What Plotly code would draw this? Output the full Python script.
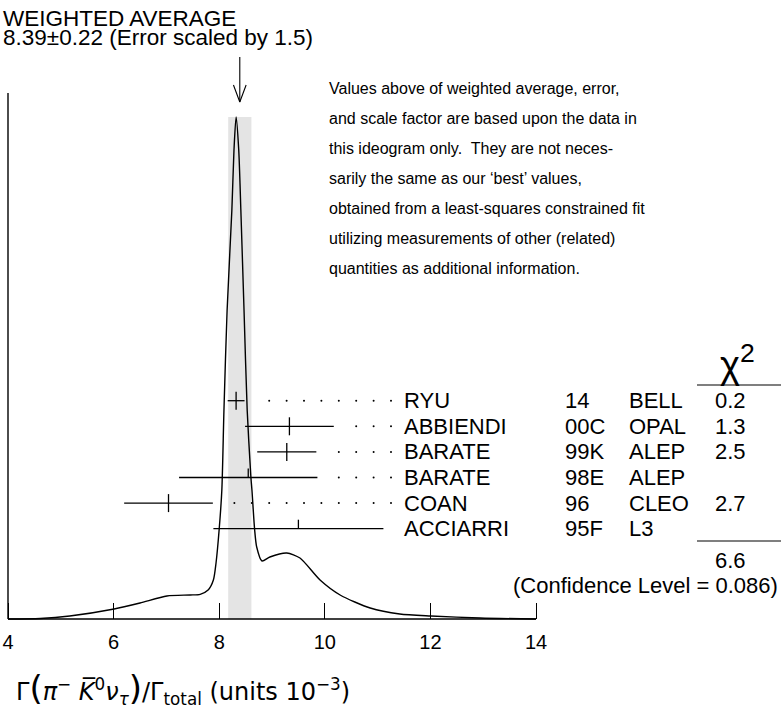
import plotly.graph_objects as go

# Measurements, units of 10^-3
authors = ["RYU", "ABBIENDI", "BARATE", "BARATE", "COAN", "ACCIARRI"]
years = ["14", "00C", "99K", "98E", "96", "95F"]
experiments = ["BELL", "OPAL", "ALEP", "ALEP", "CLEO", "L3"]
values = [8.32, 9.33, 9.28, 8.55, 7.04, 9.50]
errors = [0.16, 0.84, 0.56, 1.31, 0.84, 1.61]
chi2 = ["0.2", "1.3", "2.5", "", "2.7", ""]
in_fit = [True, True, True, False, True, False]

avg_value = 8.39
avg_error = 0.22
scale_factor = 1.5
chi2_total = "6.6"
conf_level = "0.086"

# Ideogram curve (arbitrary height units)
ideogram_x = [4.00, 4.61, 5.17, 6.01, 6.50, 7.01, 7.45, 7.64, 7.79, 7.89, 7.94,
              8.00, 8.05, 8.09, 8.15, 8.24, 8.28, 8.32, 8.37, 8.41, 8.47, 8.53,
              8.60, 8.62, 8.67, 8.71, 8.81, 8.96, 9.28, 9.53, 9.91, 10.29, 10.86,
              11.42, 12.01, 12.94, 14.00]
ideogram_y = [0, 0.5, 3, 10, 16, 23, 24, 24.7, 29, 39, 56,
              90, 129, 209, 309, 409, 469, 502, 469, 409, 309, 209,
              142, 129, 90, 72, 58, 62, 66, 61, 39, 24, 11,
              5, 3, 1, 0]

tick_vals = [4, 6, 8, 10, 12, 14]

W, H = 781, 719
X0_PX, PX_PER_UNIT = 8, 52.8
BASE_PX = 619
BOTTOM_PAD = 4
ROW_TOP_PX, ROW_STEP_PX = 400.7, 25.6
FONT = "Liberation Sans, Arial, sans-serif"


def px_x(px):
    return 4 + (px - X0_PX) / PX_PER_UNIT


def px_y(py):
    return BASE_PX - py


def paper_x(px):
    return px / W


fig = go.Figure()

# ideogram
fig.add_trace(go.Scatter(
    x=ideogram_x, y=ideogram_y, mode="lines",
    line=dict(color="black", width=1.4, shape="spline", smoothing=0.7),
    hoverinfo="skip", showlegend=False
))

# error bars, centre ticks and dotted leaders
bar_x, bar_y, tick_x, tick_y, dot_x, dot_y = [], [], [], [], [], []
dot_end = px_x(391)
dot_step = 17.4 / PX_PER_UNIT
for i, (v, e) in enumerate(zip(values, errors)):
    ry = px_y(ROW_TOP_PX + i * ROW_STEP_PX)
    bar_x += [v - e, v + e, None]
    bar_y += [ry, ry, None]
    lo = ry - 9 if in_fit[i] else ry
    tick_x += [v, v, None]
    tick_y += [lo, ry + 9, None]
    d = dot_end
    while d > v + e + 0.2:
        dot_x.append(d)
        dot_y.append(ry)
        d -= dot_step

fig.add_trace(go.Scatter(x=bar_x, y=bar_y, mode="lines",
                         line=dict(color="black", width=1.3),
                         hoverinfo="skip", showlegend=False))
fig.add_trace(go.Scatter(x=tick_x, y=tick_y, mode="lines",
                         line=dict(color="black", width=1.3),
                         hoverinfo="skip", showlegend=False))
fig.add_trace(go.Scatter(x=dot_x, y=dot_y, mode="markers",
                         marker=dict(color="black", size=2),
                         hoverinfo="skip", showlegend=False))

# arrow pointing at weighted average
fig.add_trace(go.Scatter(
    x=[avg_value, avg_value, None, avg_value - 0.12, avg_value, avg_value + 0.12],
    y=[px_y(57), px_y(102), None, px_y(85), px_y(102), px_y(85)],
    mode="lines", line=dict(color="black", width=1.1),
    hoverinfo="skip", showlegend=False
))

shapes = [
    # error band of the weighted average
    dict(type="rect", xref="x", yref="y", layer="below",
         x0=avg_value - avg_error, x1=avg_value + avg_error,
         y0=0, y1=max(ideogram_y),
         fillcolor="#e4e4e4", line=dict(width=0)),
    # axes
    dict(type="line", xref="x", yref="y", x0=4, x1=14, y0=0, y1=0,
         line=dict(color="black", width=1.4)),
    dict(type="line", xref="x", yref="y", x0=4, x1=4, y0=0, y1=px_y(93),
         line=dict(color="black", width=1.4)),
    # chi2 rules
    dict(type="line", xref="x", yref="y", x0=px_x(697), x1=px_x(781),
         y0=px_y(385), y1=px_y(385), line=dict(color="black", width=1.1)),
    dict(type="line", xref="x", yref="y", x0=px_x(697), x1=px_x(781),
         y0=px_y(541), y1=px_y(541), line=dict(color="black", width=1.1)),
]

annotations = []


def label(text, px, py, size=22, anchor="left", family=FONT):
    annotations.append(dict(
        text=text, x=px_x(px), y=px_y(py), xref="x", yref="y",
        xanchor=anchor, yanchor="middle", showarrow=False,
        font=dict(family=family, size=size, color="black")
    ))


label("WEIGHTED AVERAGE", 1, 18, size=22.5)
label(f"{avg_value:.2f}\u00b1{avg_error:.2f} (Error scaled by {scale_factor})", 1, 37, size=22.5)

note_lines = [
    "Values above of weighted average, error,",
    "and scale factor are based upon the data in",
    "this ideogram only.  They are not neces-",
    "sarily the same as our \u2018best\u2019 values,",
    "obtained from a least-squares constrained fit",
    "utilizing measurements of other (related)",
    "quantities as additional information.",
]
for k, line in enumerate(note_lines):
    label(line, 327, 88 + k * 30, size=16)

for i in range(len(authors)):
    py = ROW_TOP_PX + i * ROW_STEP_PX
    label(authors[i], 402, py)
    label(years[i], 563, py)
    label(experiments[i], 627, py)
    if chi2[i]:
        label(chi2[i], 730, py, anchor="center")

label("\u03c7<sup>2</sup>", 737, 362, size=38, anchor="center")
label(chi2_total, 730, 560, anchor="center")
label(f"(Confidence Level = {conf_level})", 780, 585, anchor="right")

annotations.append(dict(
    text=("\u0393<span style='font-size:34px'>(</span><i>\u03c0</i><sup>\u2212</sup> "
          "<i>K\u0305</i><sup>0</sup><i>\u03bd</i><sub><i>\u03c4</i></sub>"
          "<span style='font-size:34px'>)</span>/\u0393<sub>total</sub> "
          "(units 10<sup>\u22123</sup>)"),
    x=paper_x(14), y=(BASE_PX - 684) / (BASE_PX + BOTTOM_PAD),
    xref="paper", yref="paper", xanchor="left", yanchor="middle",
    showarrow=False, font=dict(family="DejaVu Sans", size=24, color="black")
))

plot_h = BASE_PX + BOTTOM_PAD
fig.update_layout(
    width=W, height=H,
    margin=dict(l=0, r=0, t=0, b=H - plot_h, pad=0),
    plot_bgcolor="white", paper_bgcolor="white",
    shapes=shapes, annotations=annotations,
    xaxis=dict(range=[px_x(0), px_x(W)], tickvals=tick_vals,
               ticktext=[str(t) for t in tick_vals],
               ticks="inside", ticklen=16, tickwidth=1.3, tickcolor="black",
               tickfont=dict(family=FONT, size=20, color="black"),
               ticklabelstandoff=9,
               showline=False, showgrid=False, zeroline=False,
               anchor="free", position=BOTTOM_PAD / plot_h),
    yaxis=dict(range=[-BOTTOM_PAD, BASE_PX], visible=False, domain=[0, 1]),
)

# the page's default body margin would shift the whole figure by 8px
fig.write_html("out.html", config={"displayModeBar": False},
               post_script="document.body.style.margin='0';")
